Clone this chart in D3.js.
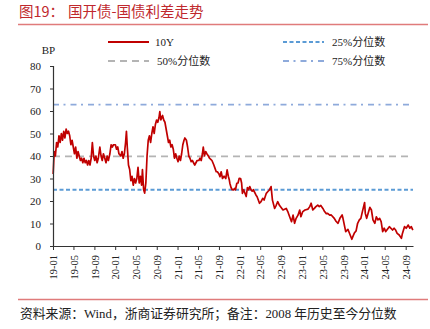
<!DOCTYPE html>
<html><head><meta charset="utf-8">
<script src="https://cdn.jsdelivr.net/npm/d3@7"></script>
<style>
html,body{margin:0;padding:0;background:#fff;}
svg{display:block;font-family:"Liberation Serif","Times New Roman","Noto Sans CJK SC",serif;}
</style></head>
<body><svg id="c" width="430" height="329"></svg>
<script>
const dates = ["2019-01-02","2019-01-08","2019-01-15","2019-01-22","2019-01-29","2019-02-05","2019-02-12","2019-02-19","2019-02-26","2019-03-05","2019-03-12","2019-03-19","2019-03-26","2019-04-02","2019-04-09","2019-04-16","2019-04-23","2019-04-30","2019-05-07","2019-05-14","2019-05-21","2019-05-28","2019-06-04","2019-06-11","2019-06-18","2019-06-25","2019-07-02","2019-07-09","2019-07-16","2019-07-23","2019-07-30","2019-08-06","2019-08-13","2019-08-20","2019-08-27","2019-09-03","2019-09-10","2019-09-17","2019-09-24","2019-10-03","2019-10-10","2019-10-17","2019-10-24","2019-11-01","2019-11-08","2019-11-15","2019-11-22","2019-12-01","2019-12-08","2019-12-15","2019-12-22","2020-01-02","2020-01-09","2020-01-16","2020-01-23","2020-02-03","2020-02-10","2020-02-17","2020-02-24","2020-03-02","2020-03-07","2020-03-12","2020-03-19","2020-03-26","2020-04-02","2020-04-09","2020-04-16","2020-04-23","2020-04-30","2020-05-07","2020-05-14","2020-05-21","2020-05-28","2020-06-04","2020-06-09","2020-06-16","2020-06-22","2020-06-29","2020-07-06","2020-07-13","2020-07-20","2020-07-27","2020-08-03","2020-08-10","2020-08-17","2020-08-24","2020-08-31","2020-09-07","2020-09-14","2020-09-19","2020-09-25","2020-10-05","2020-10-12","2020-10-19","2020-10-26","2020-11-02","2020-11-09","2020-11-16","2020-11-23","2020-11-30","2020-12-07","2020-12-14","2020-12-21","2020-12-28","2021-01-04","2021-01-11","2021-01-18","2021-01-25","2021-02-01","2021-02-08","2021-02-13","2021-02-22","2021-03-01","2021-03-08","2021-03-15","2021-03-22","2021-03-29","2021-04-05","2021-04-12","2021-04-19","2021-04-26","2021-05-06","2021-05-13","2021-05-20","2021-05-27","2021-06-01","2021-06-08","2021-06-15","2021-06-22","2021-07-01","2021-07-08","2021-07-15","2021-07-22","2021-08-02","2021-08-09","2021-08-16","2021-08-23","2021-09-01","2021-09-07","2021-09-14","2021-09-22","2021-10-01","2021-10-11","2021-10-19","2021-10-26","2021-11-01","2021-11-04","2021-11-11","2021-11-18","2021-11-26","2021-12-01","2021-12-07","2021-12-15","2021-12-22","2021-12-29","2022-01-06","2022-01-12","2022-01-17","2022-01-24","2022-02-08","2022-02-15","2022-02-22","2022-03-01","2022-03-08","2022-03-15","2022-03-22","2022-04-06","2022-04-13","2022-04-27","2022-05-06","2022-05-16","2022-05-24","2022-06-06","2022-06-14","2022-06-24","2022-07-04","2022-07-12","2022-07-25","2022-08-03","2022-08-12","2022-08-22","2022-09-12","2022-10-01","2022-10-10","2022-10-21","2022-11-01","2022-11-10","2022-11-19","2022-11-28","2022-12-09","2022-12-19","2022-12-26","2023-01-06","2023-01-19","2023-02-06","2023-02-16","2023-02-24","2023-03-06","2023-03-15","2023-03-24","2023-04-04","2023-04-13","2023-04-22","2023-05-04","2023-05-14","2023-05-24","2023-06-01","2023-06-13","2023-06-22","2023-07-10","2023-07-20","2023-08-01","2023-08-12","2023-08-25","2023-08-30","2023-09-15","2023-09-28","2023-10-06","2023-10-21","2023-10-28","2023-11-06","2023-11-15","2023-11-24","2023-12-04","2023-12-13","2023-12-22","2024-01-04","2024-01-08","2024-01-16","2024-02-04","2024-02-13","2024-02-22","2024-03-04","2024-03-13","2024-03-22","2024-04-01","2024-04-10","2024-04-19","2024-04-28","2024-05-07","2024-05-28","2024-06-16","2024-06-25","2024-07-04","2024-07-13","2024-07-25","2024-08-07","2024-08-13","2024-08-25","2024-09-04","2024-09-16","2024-09-25","2024-10-04","2024-10-13"];
const spread10Y = [32,42,40,46,44,49,46,50,47,51,48,52,50,51,49,45,47,44,41,44,39,42,40,38,39,37,39,37,38,36,38,36,39,46,40,38,40,37,39,44,40,38,41,39,37,40,38,41,45,44,45,45,43,44,41,40,42,39,41,46,51,44,36,34,29,31,27,30,28,30,35,28,31,27,34,25,23.5,28,40,47,49,46,50,53,50,54,56,55,57,59.7,56,58,56,55,52,49,46,47,44,45,43,39,41,39,37.5,40,38,41,45,47,48,47,44,40,39,37.5,38,37,36,37,38,38,39,38,41,44,40,42,41,40,39,38.5,38,36,34.5,33,33,32,30.8,33,30,31,30,33.8,31,29.3,27.9,26,25,24.9,25.6,25,27.9,28,30.1,30,28,23.4,25,22,26,25,26.4,25,24.4,25,22.7,21.9,19,19.7,21.2,20.4,23.4,24.1,24.9,26.4,20.4,16.7,18.1,19.7,18.1,16,16.7,15.3,13,10.8,13.7,10.1,12.3,13.7,16,13,15.3,16,16.4,17.5,19,16,16.7,17.5,18.2,17.5,18,16.7,15.3,14.4,14.5,13.7,13.8,12.3,11,10.1,12.3,13.8,12.3,6.4,7.4,5.9,3,4.4,5.9,6.7,10.1,11.6,12.3,15.3,19.3,14.5,12.3,17.2,16,11.6,10.1,13,11.6,12.3,10.8,6.4,7.9,6.4,8.6,7.1,7.9,7.1,5.6,4.9,3.4,5.6,8.6,7.9,9.3,7.9,8.6,7.1];
const pct25 = 25;
const pct50 = 39.8;
const pct75 = 62.8;
const yTicks = [0,10,20,30,40,50,60,70,80];
const legendLabels = ["10Y","25%分位数","50%分位数","75%分位数"];
const titleNum = "图19：";
const titleText = "国开债-国债利差走势";
const sourceText = "资料来源：Wind，浙商证券研究所；备注：2008 年历史至今分位数";

const svg = d3.select("#c");
const parse = d3.timeParse("%Y-%m-%d");
const data = dates.map((d,i)=>({date:parse(d), v:spread10Y[i]}));

const x = d3.scaleTime().domain([new Date(2019,0,1), new Date(2024,9,14)]).range([53,413]);
const y = d3.scaleLinear().domain([0,80]).range([246,66]);

const red = "#c00000";
const titleRed = "#c0282d";
const ruleRed = "#e07b7b";

// Title
svg.append("text").attr("x",19).attr("y",17).attr("fill",titleRed).attr("font-size",14.5)
  .attr("font-family","'Noto Sans CJK SC',sans-serif").text(titleNum);
svg.append("text").attr("x",68).attr("y",17).attr("fill",titleRed).attr("font-size",14.5)
  .attr("font-family","'Noto Sans CJK SC',sans-serif").text(titleText);
svg.append("line").attr("x1",18).attr("x2",428).attr("y1",24.5).attr("y2",24.5)
  .attr("stroke",ruleRed).attr("stroke-width",1.5);

// Reference lines
const refs = [
  {v:pct25, color:"#5b9bd5", dash:"4,2.5", w:1.8},
  {v:pct50, color:"#b4b4b4", dash:"7,5", w:1.8},
  {v:pct75, color:"#8eaadb", dash:"6,4.5,2,5", w:1.8}
];
refs.forEach(r=>{
  svg.append("line").attr("x1",x.range()[0]).attr("x2",x.range()[1])
    .attr("y1",y(r.v)).attr("y2",y(r.v))
    .attr("stroke",r.color).attr("stroke-width",r.w).attr("stroke-dasharray",r.dash);
});

// Line
svg.append("path").datum(data)
  .attr("d", d3.line().x(d=>x(d.date)).y(d=>y(d.v)))
  .attr("fill","none").attr("stroke",red).attr("stroke-width",1.7).attr("stroke-linejoin","round");

// Y axis
const yAxis = svg.append("g").attr("transform","translate(53,0)")
  .call(d3.axisLeft(y).tickValues(yTicks).tickSize(3).tickPadding(9));
yAxis.select(".domain").attr("stroke","#333").attr("stroke-width",1.2);
yAxis.selectAll(".tick line").attr("stroke","#333");
yAxis.selectAll("text").attr("font-size",11).attr("fill","#222")
  .attr("font-family","'Liberation Serif','Times New Roman',serif");

// X axis
const xAxis = svg.append("g").attr("transform","translate(0,246)")
  .call(d3.axisBottom(x).ticks(d3.timeMonth.every(4)).tickFormat(d3.timeFormat("%y-%m")).tickSize(4).tickSizeOuter(0));
xAxis.select(".domain").attr("stroke","#333").attr("stroke-width",1.2);
xAxis.selectAll(".tick line").attr("stroke","#333");
xAxis.selectAll("text").attr("font-size",10.5).attr("fill","#222")
  .attr("font-family","'Liberation Serif','Times New Roman',serif")
  .attr("transform","rotate(-90)").attr("text-anchor","end")
  .attr("x",-9).attr("y",0).attr("dy","0.35em");

// BP label
svg.append("text").attr("x",48.5).attr("y",54).attr("text-anchor","middle").attr("font-size",11)
  .attr("fill","#222").text("BP");

// Legend
const leg = [
  {label:legendLabels[0], x:108, y:42, color:red, dash:null, tx:155},
  {label:legendLabels[1], x:283, y:42, color:"#5b9bd5", dash:"4,2.5", tx:332},
  {label:legendLabels[2], x:108, y:61, color:"#b4b4b4", dash:"7,5", tx:157},
  {label:legendLabels[3], x:283, y:61, color:"#8eaadb", dash:"6,4.5,2,5", tx:332}
];
leg.forEach(l=>{
  svg.append("line").attr("x1",l.x).attr("x2",l.x+41).attr("y1",l.y).attr("y2",l.y)
    .attr("stroke",l.color).attr("stroke-width",l.dash?1.8:2.2).attr("stroke-dasharray",l.dash);
  svg.append("text").attr("x",l.tx).attr("y",l.y+4).attr("font-size",11).attr("fill","#222")
    .attr("font-family","'Liberation Serif','Times New Roman','Noto Sans CJK SC',serif").text(l.label);
});

// Footer
svg.append("line").attr("x1",18).attr("x2",428).attr("y1",299.5).attr("y2",299.5)
  .attr("stroke",ruleRed).attr("stroke-width",1.5);
svg.append("text").attr("x",20).attr("y",317.5).attr("font-size",12.8).attr("fill","#222")
  .attr("font-family","'Liberation Serif','Times New Roman','Noto Sans CJK SC',serif").text(sourceText);
</script>
</body></html>
